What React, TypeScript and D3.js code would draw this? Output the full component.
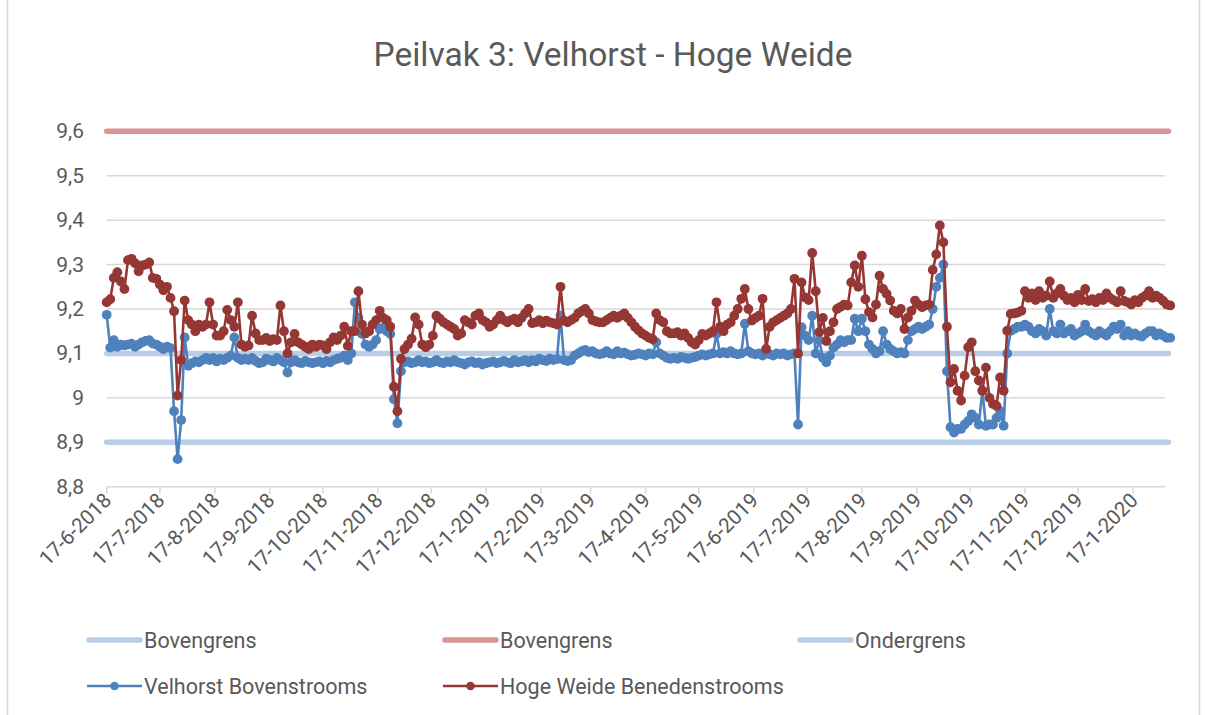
import React from "react";
import * as d3 from "d3";

// ---- data ----
const START_DATE = "17-6-2018";
const END_DATE = "6-2-2020";
const STEP_DAYS = 2;

const yTickValues = [8.8, 8.9, 9.0, 9.1, 9.2, 9.3, 9.4, 9.5, 9.6];
const yTickLabels = ["8,8", "8,9", "9", "9,1", "9,2", "9,3", "9,4", "9,5", "9,6"];

const xTickLabels = [
  "17-6-2018", "17-7-2018", "17-8-2018", "17-9-2018", "17-10-2018", "17-11-2018",
  "17-12-2018", "17-1-2019", "17-2-2019", "17-3-2019", "17-4-2019", "17-5-2019",
  "17-6-2019", "17-7-2019", "17-8-2019", "17-9-2019", "17-10-2019", "17-11-2019",
  "17-12-2019", "17-1-2020",
];

const bovengrensLaag = 9.1;
const bovengrensHoog = 9.6;
const ondergrens = 8.9;

// Velhorst Bovenstrooms, every 2 days from 17-6-2018
const velhorst = [
  9.187, 9.113, 9.13, 9.115, 9.12, 9.118, 9.12, 9.122, 9.115, 9.12,
  9.125, 9.128, 9.13, 9.122, 9.12, 9.115, 9.11, 9.115, 9.112, 8.97,
  8.862, 8.95, 9.136, 9.072, 9.078, 9.082, 9.08, 9.085, 9.09, 9.085,
  9.09, 9.082, 9.088, 9.085, 9.09, 9.095, 9.136, 9.09, 9.085, 9.088,
  9.085, 9.09, 9.083, 9.078, 9.08, 9.088, 9.085, 9.082, 9.09, 9.085,
  9.08, 9.057, 9.08, 9.085, 9.08, 9.078, 9.083, 9.08, 9.078, 9.08,
  9.082, 9.078, 9.083, 9.08, 9.085, 9.088, 9.09, 9.095, 9.085, 9.1,
  9.215, 9.18, 9.144, 9.12, 9.115, 9.12, 9.13, 9.155, 9.158, 9.15,
  9.144, 8.997, 8.943, 9.06, 9.08, 9.082, 9.078, 9.08, 9.085, 9.08,
  9.082, 9.078, 9.08, 9.085, 9.08, 9.078, 9.082, 9.08, 9.085, 9.08,
  9.078, 9.075, 9.08, 9.082, 9.078, 9.08, 9.075, 9.078, 9.08, 9.082,
  9.078, 9.08, 9.083, 9.08, 9.078, 9.085, 9.08, 9.082, 9.085, 9.08,
  9.085, 9.082, 9.088, 9.085, 9.083, 9.088, 9.085, 9.087, 9.185, 9.085,
  9.083, 9.085, 9.095, 9.1, 9.105, 9.108, 9.103, 9.105, 9.1, 9.098,
  9.1, 9.105, 9.1, 9.098, 9.105, 9.1, 9.102, 9.098, 9.095, 9.097,
  9.1, 9.098, 9.095, 9.1, 9.098, 9.125, 9.1, 9.095, 9.09, 9.088,
  9.09, 9.088, 9.092, 9.09, 9.088, 9.09, 9.092, 9.095, 9.098, 9.095,
  9.098, 9.1, 9.144, 9.1, 9.103, 9.1, 9.105, 9.1, 9.098, 9.1,
  9.167, 9.105, 9.1, 9.098, 9.1, 9.095, 9.1, 9.098, 9.095, 9.1,
  9.098, 9.1, 9.095, 9.098, 9.1, 8.94, 9.159, 9.14, 9.13, 9.185,
  9.1, 9.13, 9.09, 9.08, 9.095, 9.113, 9.12, 9.13, 9.125, 9.13,
  9.13, 9.178, 9.15, 9.178, 9.15, 9.12, 9.11, 9.1, 9.105, 9.15,
  9.12, 9.11, 9.105, 9.1, 9.103, 9.1, 9.13, 9.15, 9.155, 9.16,
  9.155, 9.16, 9.165, 9.2, 9.25, 9.27, 9.3, 9.06, 8.934, 8.922,
  8.93, 8.93, 8.94, 8.948, 8.963, 8.955, 8.94, 9.016, 8.937, 8.94,
  8.94, 8.955, 8.97, 8.937, 9.1, 9.151, 9.155, 9.16, 9.16, 9.165,
  9.16, 9.15, 9.145, 9.155, 9.15, 9.14, 9.2, 9.15, 9.145, 9.165,
  9.145, 9.15, 9.155, 9.14, 9.145, 9.15, 9.165, 9.15, 9.145, 9.14,
  9.15, 9.145, 9.14, 9.15, 9.16, 9.155, 9.165, 9.14, 9.15, 9.14,
  9.145, 9.14, 9.138, 9.145, 9.15, 9.15, 9.14, 9.145, 9.14, 9.135,
  9.135,
];

// Hoge Weide Benedenstrooms, every 2 days from 17-6-2018
const hogeWeide = [
  9.215, 9.222, 9.27, 9.283, 9.262, 9.245, 9.31, 9.313, 9.303, 9.285,
  9.298, 9.3, 9.305, 9.27, 9.268, 9.255, 9.242, 9.25, 9.225, 9.195,
  9.005, 9.085, 9.219, 9.175, 9.165, 9.15, 9.165, 9.16, 9.165, 9.215,
  9.165, 9.14, 9.14, 9.15, 9.198, 9.175, 9.16, 9.215, 9.12, 9.115,
  9.118, 9.185, 9.145, 9.13, 9.13, 9.135, 9.128, 9.132, 9.13, 9.208,
  9.15, 9.1, 9.125, 9.144, 9.125, 9.12, 9.115, 9.11, 9.12, 9.115,
  9.12, 9.118, 9.11, 9.125, 9.136, 9.13, 9.14, 9.16, 9.117, 9.15,
  9.15, 9.24, 9.165, 9.145, 9.15, 9.165, 9.175, 9.196, 9.18, 9.175,
  9.16, 9.025, 8.97, 9.088, 9.11, 9.12, 9.133, 9.181, 9.165, 9.12,
  9.114, 9.12, 9.14, 9.185, 9.178, 9.17, 9.165, 9.16, 9.155, 9.14,
  9.145, 9.175, 9.17, 9.165, 9.185, 9.19, 9.175, 9.17, 9.16, 9.165,
  9.175, 9.185, 9.175, 9.17, 9.175, 9.178, 9.17, 9.18, 9.19, 9.2,
  9.168, 9.17, 9.175, 9.168, 9.174, 9.17, 9.168, 9.165, 9.25, 9.174,
  9.17, 9.175, 9.18, 9.19, 9.195, 9.2, 9.19, 9.175, 9.172, 9.17,
  9.17, 9.175, 9.18, 9.185, 9.18, 9.185, 9.19, 9.18, 9.17, 9.16,
  9.152, 9.145, 9.14, 9.135, 9.132, 9.19, 9.175, 9.17, 9.15, 9.145,
  9.145, 9.148, 9.14, 9.145, 9.135, 9.125, 9.12, 9.13, 9.144, 9.14,
  9.145, 9.15, 9.215, 9.16, 9.15, 9.165, 9.17, 9.185, 9.2, 9.223,
  9.245, 9.2, 9.174, 9.18, 9.185, 9.223, 9.11, 9.16, 9.17, 9.175,
  9.18, 9.185, 9.19, 9.2, 9.268, 9.1, 9.26, 9.226, 9.22, 9.326,
  9.24, 9.148, 9.18, 9.128, 9.15, 9.17, 9.2, 9.205, 9.21, 9.208,
  9.26, 9.298, 9.25, 9.32, 9.222, 9.193, 9.181, 9.21, 9.275, 9.245,
  9.234, 9.219, 9.196, 9.19, 9.2, 9.155, 9.181, 9.196, 9.219, 9.21,
  9.204, 9.208, 9.21, 9.288, 9.323, 9.388, 9.35, 9.16, 9.035, 9.065,
  9.016, 8.994, 9.05, 9.114, 9.125, 9.06, 9.039, 9.016, 9.068, 9.0,
  8.986, 8.982, 9.046, 9.016, 9.151, 9.189, 9.19, 9.192, 9.196, 9.24,
  9.225, 9.235, 9.22, 9.24, 9.225, 9.23, 9.262, 9.225, 9.235, 9.245,
  9.23, 9.22, 9.225, 9.215, 9.232, 9.22, 9.245, 9.218, 9.222, 9.215,
  9.225, 9.22, 9.235, 9.225, 9.22, 9.215, 9.24, 9.218, 9.215, 9.21,
  9.22, 9.215, 9.225, 9.23, 9.24, 9.225, 9.23, 9.225, 9.218, 9.21,
  9.208,
];

// ---- styling / layout ----
const W = 1205;
const H = 715;
const PLOT = { left: 106.7, right: 1168.5, top: 131.3, bottom: 486.7 };
const FONT = "Roboto, 'Noto Sans', sans-serif";
const TEXT = "#595959";
const GRID = "#d9d9d9";
const C_LIMIT_BLUE = "#b9cde5";
const C_LIMIT_RED = "#d99694";
const C_BLUE = "#4f81bd";
const C_RED = "#953735";
const MARKER_R = 4.9;

const parse = d3.utcParse("%d-%m-%Y");

export default function App() {
  const start = parse(START_DATE) as Date;
  const end = parse(END_DATE) as Date;
  const x = d3.scaleUtc().domain([start, end]).range([PLOT.left, PLOT.right]);
  const y = d3.scaleLinear().domain([8.8, 9.6]).range([PLOT.bottom, PLOT.top]);

  const dateAt = (i: number) => d3.utcDay.offset(start, i * STEP_DAYS);
  const mk = (vals: number[]) => vals.map((v, i) => ({ d: dateAt(i), v }));
  const blue = mk(velhorst);
  const red = mk(hogeWeide);

  const line = d3
    .line<{ d: Date; v: number }>()
    .x((p) => x(p.d))
    .y((p) => y(p.v));

  const ticks = xTickLabels.map((s) => ({ s, d: parse(s) as Date }));

  const limits = [
    { v: bovengrensLaag, c: C_LIMIT_BLUE },
    { v: bovengrensHoog, c: C_LIMIT_RED },
    { v: ondergrens, c: C_LIMIT_BLUE },
  ];

  const legendRow1 = [
    { label: "Bovengrens", c: C_LIMIT_BLUE, x: 87 },
    { label: "Bovengrens", c: C_LIMIT_RED, x: 443 },
    { label: "Ondergrens", c: C_LIMIT_BLUE, x: 798 },
  ];
  const legendRow2 = [
    { label: "Velhorst Bovenstrooms", c: C_BLUE, x: 87 },
    { label: "Hoge Weide Benedenstrooms", c: C_RED, x: 443 },
  ];

  return (
    <svg
      width={W}
      height={H}
      style={{ position: "absolute", left: 0, top: 0, background: "#fff" }}
      fontFamily={FONT}
    >
      <rect x={0} y={0} width={W} height={H} fill="#fff" />
      <line x1={7.5} x2={7.5} y1={0} y2={H} stroke={GRID} strokeWidth={1.5} />
      <line x1={1199.5} x2={1199.5} y1={0} y2={H} stroke={GRID} strokeWidth={1.5} />

      <text x={613} y={66} textAnchor="middle" fontSize={33.5} fill={TEXT}>
        Peilvak 3: Velhorst - Hoge Weide
      </text>

      {/* gridlines */}
      {yTickValues.map((v) => (
        <line
          key={"g" + v}
          x1={PLOT.left}
          x2={1165}
          y1={y(v)}
          y2={y(v)}
          stroke={GRID}
          strokeWidth={1.5}
        />
      ))}

      {/* y labels */}
      {yTickValues.map((v, i) => (
        <text
          key={"yl" + v}
          x={84}
          y={y(v) + 7}
          textAnchor="end"
          fontSize={21}
          fill={TEXT}
        >
          {yTickLabels[i]}
        </text>
      ))}

      {/* x ticks & labels */}
      {ticks.map((t) => (
        <g key={t.s}>
          <line
            x1={x(t.d)}
            x2={x(t.d)}
            y1={PLOT.bottom}
            y2={PLOT.bottom + 7}
            stroke={GRID}
            strokeWidth={1.5}
          />
          <text
            transform={`translate(${x(t.d) + 6},${PLOT.bottom + 15}) rotate(-45)`}
            textAnchor="end"
            fontSize={20.5}
            fill={TEXT}
          >
            {t.s}
          </text>
        </g>
      ))}

      {/* limit lines */}
      {limits.map((l, i) => (
        <line
          key={"lim" + i}
          x1={PLOT.left}
          x2={PLOT.right}
          y1={y(l.v)}
          y2={y(l.v)}
          stroke={l.c}
          strokeWidth={5.5}
          strokeLinecap="round"
        />
      ))}

      {/* Velhorst */}
      <path d={line(blue) || ""} fill="none" stroke={C_BLUE} strokeWidth={2.6} strokeLinejoin="round" />
      {blue.map((p, i) => (
        <circle key={"b" + i} cx={x(p.d)} cy={y(p.v)} r={MARKER_R} fill={C_BLUE} />
      ))}

      {/* Hoge Weide */}
      <path d={line(red) || ""} fill="none" stroke={C_RED} strokeWidth={2.6} strokeLinejoin="round" />
      {red.map((p, i) => (
        <circle key={"r" + i} cx={x(p.d)} cy={y(p.v)} r={MARKER_R} fill={C_RED} />
      ))}

      {/* legend */}
      {legendRow1.map((l, i) => (
        <g key={"l1" + i}>
          <line
            x1={l.x + 2}
            x2={l.x + 53}
            y1={640}
            y2={640}
            stroke={l.c}
            strokeWidth={5.5}
            strokeLinecap="round"
          />
          <text x={l.x + 57} y={647.5} fontSize={21.5} fill={TEXT}>
            {l.label}
          </text>
        </g>
      ))}
      {legendRow2.map((l, i) => (
        <g key={"l2" + i}>
          <line x1={l.x} x2={l.x + 55} y1={686} y2={686} stroke={l.c} strokeWidth={2.6} />
          <circle cx={l.x + 27.5} cy={686} r={4.3} fill={l.c} />
          <text x={l.x + 57} y={693.5} fontSize={21.5} fill={TEXT}>
            {l.label}
          </text>
        </g>
      ))}
    </svg>
  );
}
